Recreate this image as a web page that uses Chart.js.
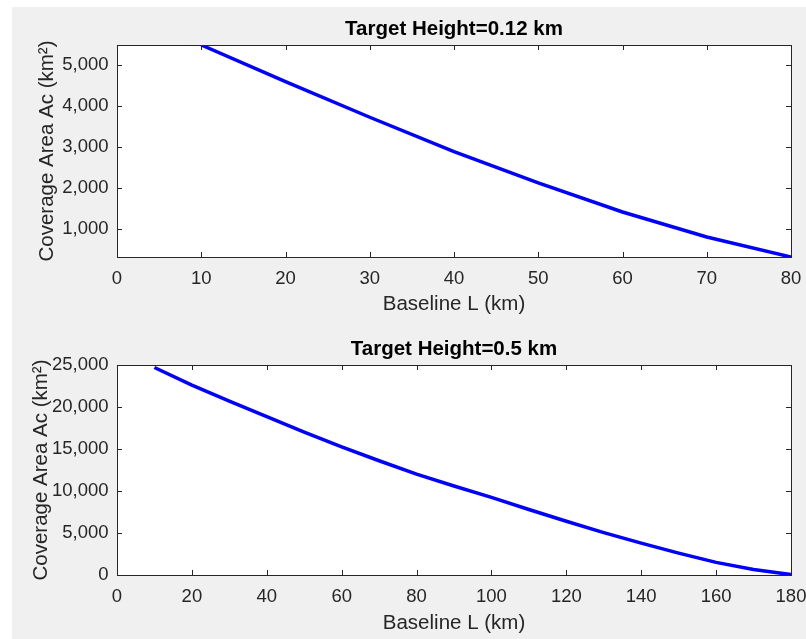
<!DOCTYPE html>
<html>
<head>
<meta charset="utf-8">
<script src="https://cdn.jsdelivr.net/npm/chart.js@4/dist/chart.umd.min.js"></script>
<style>
  html, body { margin: 0; padding: 0; background: #ffffff; }
  #panel { position: absolute; left: 12px; top: 7px; width: 794px; height: 632px; background: #f0f0f0; }
  canvas { position: absolute; left: 0; }
  #c1 { top: 0; }
  #c2 { top: 320px; }
</style>
</head>
<body>
<div id="panel"></div>
<canvas id="c1" width="806" height="320"></canvas>
<canvas id="c2" width="806" height="319"></canvas>
<script>
// ---- data ----
const topTitle = 'Target Height=0.12 km';
const bottomTitle = 'Target Height=0.5 km';
const xLabel = 'Baseline L (km)';
const yLabel = 'Coverage Area Ac (km\u00B2)';

const topBaseline = [10, 20, 30, 40, 50, 60, 70, 80];
const topArea     = [5485, 4593, 3724, 2885, 2122, 1415, 805, 317];
const topYTicks   = [1000, 2000, 3000, 4000, 5000];
const topXTicks   = [0, 10, 20, 30, 40, 50, 60, 70, 80];

const bottomBaseline = [10, 20, 30, 40, 50, 60, 70, 80, 90, 100, 110, 120, 130, 140, 150, 160, 170, 180];
const bottomArea     = [24700, 22600, 20700, 18850, 17000, 15250, 13600, 12000, 10600, 9250, 7800, 6400, 5050, 3800, 2600, 1500, 650, 50];
const bottomYTicks   = [0, 5000, 10000, 15000, 20000, 25000];
const bottomXTicks   = [0, 20, 40, 60, 80, 100, 120, 140, 160, 180];

// ---- styling ----
const FONT = '"Liberation Sans", Arial, Helvetica, sans-serif';
const AXIS_COLOR = '#262626';
const TICK_FONT = { family: FONT, size: 18.5 };
const LABEL_FONT = { family: FONT, size: 20.5 };
const TITLE_FONT = { family: FONT, size: 20.5, weight: 'bold' };

const boxPlugin = {
  id: 'matlabBox',
  beforeDatasetsDraw(chart) {
    const { ctx, chartArea: a } = chart;
    ctx.save();
    ctx.fillStyle = '#ffffff';
    ctx.fillRect(a.left, a.top, a.right - a.left, a.bottom - a.top);
    ctx.restore();
  },
  afterDatasetsDraw(chart) {
    const { ctx, chartArea: a, scales } = chart;
    const L = 5;
    ctx.save();
    ctx.strokeStyle = AXIS_COLOR;
    ctx.lineWidth = 1;
    ctx.beginPath();
    scales.x.ticks.forEach(t => {
      const px = Math.round(scales.x.getPixelForValue(t.value)) + 0.5;
      ctx.moveTo(px, a.bottom); ctx.lineTo(px, a.bottom - L);
      ctx.moveTo(px, a.top); ctx.lineTo(px, a.top + L);
    });
    scales.y.ticks.forEach(t => {
      const py = Math.round(scales.y.getPixelForValue(t.value)) + 0.5;
      ctx.moveTo(a.left, py); ctx.lineTo(a.left + L, py);
      ctx.moveTo(a.right, py); ctx.lineTo(a.right - L, py);
    });
    ctx.stroke();
    ctx.strokeRect(Math.round(a.left) + 0.5, Math.round(a.top) + 0.5,
                   Math.round(a.right - a.left), Math.round(a.bottom - a.top));
    ctx.restore();
  }
};

function makeChart(canvasId, title, xs, ys, xTicks, yTicks, xMin, xMax, yMin, yMax, xScaleHeight, yTitlePad) {
  const points = xs.map((x, i) => ({ x: x, y: ys[i] }));
  return new Chart(document.getElementById(canvasId), {
    type: 'line',
    data: {
      datasets: [{
        data: points,
        borderColor: '#0000ff',
        borderWidth: 3.5,
        pointRadius: 0,
        tension: 0,
        fill: false
      }]
    },
    plugins: [boxPlugin],
    options: {
      responsive: false,
      animation: false,
      devicePixelRatio: 1,
      layout: { padding: { left: 12, right: 15, top: 0, bottom: 0 } },
      plugins: {
        legend: { display: false },
        tooltip: { enabled: false },
        title: {
          display: true,
          text: title,
          fullSize: false,
          color: '#000000',
          font: TITLE_FONT,
          padding: { top: 17.5, bottom: 2.9 }
        }
      },
      scales: {
        x: {
          type: 'linear',
          min: xMin, max: xMax,
          grid: { display: false, drawTicks: false },
          border: { display: false },
          afterBuildTicks: s => { s.ticks = xTicks.map(v => ({ value: v })); },
          afterFit: s => { s.height = xScaleHeight; s.paddingLeft = 0; s.paddingRight = 0; },
          ticks: {
            color: AXIS_COLOR, font: TICK_FONT, padding: 11,
            autoSkip: false, maxRotation: 0,
            callback: v => v.toLocaleString('en-US')
          },
          title: {
            display: true, text: xLabel, color: AXIS_COLOR, font: LABEL_FONT,
            padding: { top: 0, bottom: 3.5 }
          }
        },
        y: {
          type: 'linear',
          min: yMin, max: yMax,
          grid: { display: false, drawTicks: false },
          border: { display: false },
          afterBuildTicks: s => { s.ticks = yTicks.map(v => ({ value: v })); },
          afterFit: s => { s.width = 105; s.paddingTop = 0; s.paddingBottom = 0; },
          ticks: {
            color: AXIS_COLOR, font: TICK_FONT, padding: 8.5,
            autoSkip: false,
            callback: v => v.toLocaleString('en-US')
          },
          title: {
            display: true, text: yLabel, color: AXIS_COLOR, font: LABEL_FONT,
            padding: { top: yTitlePad, bottom: 0 }
          }
        }
      }
    }
  });
}

makeChart('c1', topTitle, topBaseline, topArea, topXTicks, topYTicks,
          0, 80, Math.min(...topArea), Math.max(...topArea), 63, 23.5);
makeChart('c2', bottomTitle, bottomBaseline, bottomArea, bottomXTicks, bottomYTicks,
          0, 180, 0, 25000, 64, 17);
</script>
</body>
</html>
